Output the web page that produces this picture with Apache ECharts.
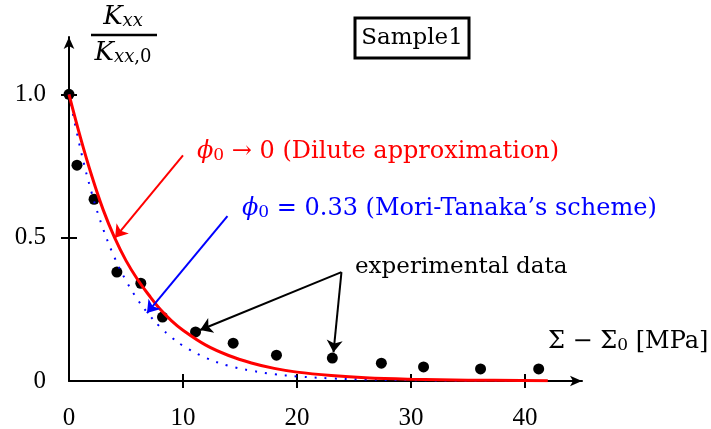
<!DOCTYPE html>
<html>
<head>
<meta charset="utf-8">
<script src="https://cdn.jsdelivr.net/npm/echarts@6/dist/echarts.min.js"></script>
<style>
html, body { margin: 0; padding: 0; background: #fff; }
#chart { width: 711px; height: 429px; }
</style>
</head>
<body>
<div id="chart"></div>
<script>
// experimental points (Sample1)
var expX = [0, 0.7, 2.2, 4.2, 6.3, 8.2, 11.1, 14.4, 18.2, 23.1, 27.4, 31.1, 36.1, 41.2];
var expY = [1.0, 0.753, 0.634, 0.38, 0.341, 0.223, 0.171, 0.132, 0.09, 0.08, 0.062, 0.049, 0.042, 0.042];

// dilute approximation (red)
var diluteX = [0, 1, 2, 3, 4, 5, 6, 7, 8, 9, 10, 12, 14, 16, 18, 20, 23, 26, 30, 35, 42];
var diluteY = [1.0, 0.85, 0.715, 0.597, 0.5, 0.42, 0.355, 0.3, 0.25, 0.21, 0.177, 0.125, 0.089, 0.063, 0.044, 0.031, 0.019, 0.011, 0.006, 0.003, 0.001];

// Mori-Tanaka (blue dotted)
var moriX = [0, 1, 2, 3, 4, 5, 6, 7, 8, 9, 10, 12, 14, 16, 18, 20, 23, 26, 30, 35, 42];
var moriY = [1.0, 0.81, 0.655, 0.53, 0.43, 0.35, 0.285, 0.232, 0.188, 0.152, 0.123, 0.081, 0.053, 0.036, 0.024, 0.016, 0.009, 0.005, 0.003, 0.001, 0.0];

var xTickLabels = [0, 10, 20, 30, 40];
var yTickLabels = [0, 0.5, 1.0];

function zip(xs, ys) {
    return xs.map(function (x, i) { return [x, ys[i]]; });
}

var FONT = "DejaVu Serif";
var TFONT = "Liberation Serif";  // digits on the axes
var FS = 24;     // annotation text
var TFS = 25;    // tick labels

var myChart = echarts.init(document.getElementById("chart"));

function richFor(color, fs) {
    var sub = { fontFamily: FONT, fontSize: Math.round(fs * 0.7), verticalAlign: "bottom", lineHeight: 10, fill: color, color: color };
    return {
        i: { fontFamily: FONT, fontSize: fs, fontStyle: "italic", fill: color, color: color },
        s: sub,
        si: Object.assign({}, sub, { fontStyle: "italic" }),
        n: { fontFamily: FONT, fontSize: fs, fill: color, color: color }
    };
}

function label(x, y, text, color, align, fs) {
    fs = fs || FS;
    return {
        type: "text",
        x: x,
        y: y,
        style: {
            text: text,
            fontFamily: FONT,
            fontSize: fs,
            fill: color,
            align: align || "left",
            textAlign: align || "left",
            verticalAlign: "middle",
            textVerticalAlign: "middle",
            rich: richFor(color, fs)
        }
    };
}

// two copies of each axis so the ticks cross the line
var xBase = { type: "value", min: 0, max: 45, position: "bottom", splitLine: { show: false } };
var yBase = { type: "value", min: 0, max: 1.2, position: "left", splitLine: { show: false } };
var tickLine = { color: "#000", width: 2 };

myChart.setOption({
    animation: false,
    backgroundColor: "#fff",
    grid: { left: 69, right: 129, top: 37, bottom: 48, containLabel: false, outerBoundsMode: "none" },
    xAxis: [
        Object.assign({}, xBase, {
            axisLine: { show: true, lineStyle: { color: "#000", width: 2 }, symbol: ["none", "arrow"], symbolSize: [8, 12], onZero: false },
            axisTick: { show: true, inside: false, length: 7, lineStyle: tickLine, customValues: [10, 20, 30, 40] },
            axisLabel: { show: true, margin: 25, color: "#000", fontFamily: TFONT, fontSize: TFS, customValues: xTickLabels }
        }),
        Object.assign({}, xBase, {
            axisLine: { show: false, onZero: false },
            axisTick: { show: true, inside: true, length: 7, lineStyle: tickLine, customValues: [10, 20, 30, 40] },
            axisLabel: { show: false }
        })
    ],
    yAxis: [
        Object.assign({}, yBase, {
            axisLine: { show: true, lineStyle: { color: "#000", width: 2 }, symbol: ["none", "arrow"], symbolSize: [8, 12], onZero: false },
            axisTick: { show: true, inside: false, length: 8, lineStyle: tickLine, customValues: [0.5, 1.0] },
            axisLabel: {
                show: true, margin: 23, color: "#000", fontFamily: TFONT, fontSize: TFS, customValues: yTickLabels,
                formatter: function (v) { return v === 0 ? "0" : v.toFixed(1); }
            }
        }),
        Object.assign({}, yBase, {
            axisLine: { show: false, onZero: false },
            axisTick: { show: true, inside: true, length: 8, lineStyle: tickLine, customValues: [0.5, 1.0] },
            axisLabel: { show: false }
        })
    ],
    graphic: [
        // y title as fraction
        label(123, 17, "{i|K}{si|xx}", "#000", "center", 26),
        { type: "line", shape: { x1: 91, y1: 35, x2: 157, y2: 35 }, style: { stroke: "#000", lineWidth: 2.5 } },
        label(123, 53, "{i|K}{si|xx}{s|,0}", "#000", "center", 26),
        // sample box
        { type: "rect", shape: { x: 355, y: 18, width: 114, height: 40 }, style: { fill: "#fff", stroke: "#000", lineWidth: 3 } },
        label(412, 38, "Sample1", "#000", "center", 23),
        // annotations
        label(197, 152, "{i|ϕ}{s|0}{n| → 0 (Dilute approximation)}", "#ff0000"),
        label(242, 209, "{i|ϕ}{s|0}{n| = 0.33 (Mori-Tanaka’s scheme)}", "#0000ff"),
        label(355, 267, "experimental data", "#000", "left", 23),
        label(548, 342, "{n|Σ − Σ}{s|0}{n| [MPa]}", "#000")
    ],
    series: [
        {
            name: "Mori-Tanaka",
            type: "line",
            data: zip(moriX, moriY),
            showSymbol: false,
            smooth: 0.4,
            lineStyle: { color: "#0000ff", width: 2, type: [2, 8] },
            markLine: {
                silent: true,
                symbol: ["none", "arrow"],
                symbolSize: 12,
                label: { show: false },
                lineStyle: { color: "#0000ff", width: 2, type: "solid" },
                data: [[{ coord: [13.9, 0.575] }, { coord: [6.84, 0.237] }]]
            }
        },
        {
            name: "Dilute",
            type: "line",
            data: zip(diluteX, diluteY),
            showSymbol: false,
            smooth: 0.4,
            lineStyle: { color: "#ff0000", width: 3 },
            markLine: {
                silent: true,
                symbol: ["none", "arrow"],
                symbolSize: 12,
                label: { show: false },
                lineStyle: { color: "#ff0000", width: 2, type: "solid" },
                data: [[{ coord: [10.0, 0.787] }, { coord: [4.04, 0.5] }]]
            }
        },
        {
            name: "experimental data",
            type: "scatter",
            data: zip(expX, expY),
            symbol: "circle",
            symbolSize: 11,
            itemStyle: { color: "#000", opacity: 1 },
            markLine: {
                silent: true,
                symbol: ["none", "arrow"],
                symbolSize: 12,
                label: { show: false },
                lineStyle: { color: "#000", width: 2, type: "solid" },
                data: [
                    [{ coord: [23.9, 0.38] }, { coord: [11.5, 0.178] }],
                    [{ coord: [23.9, 0.38] }, { coord: [23.2, 0.1] }]
                ]
            }
        }
    ]
});
</script>
</body>
</html>
